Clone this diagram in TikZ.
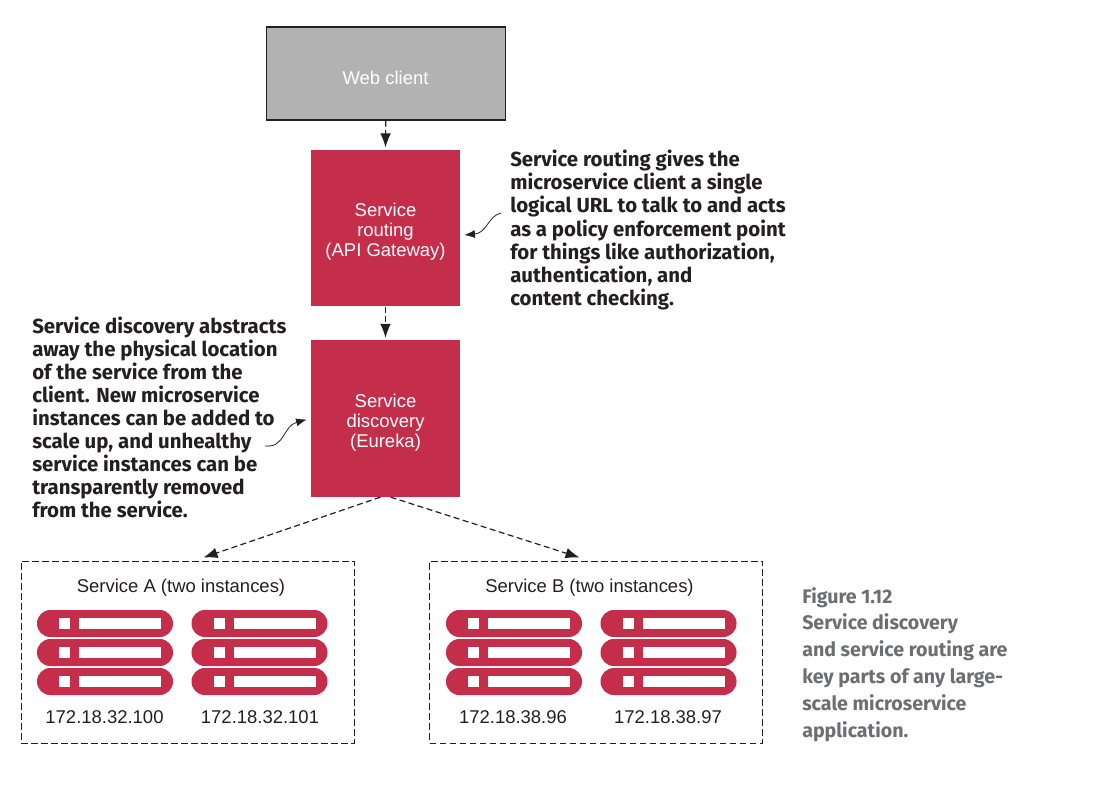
\documentclass[tikz,border=0pt]{standalone}
\usepackage{fontspec}
\setmainfont{Liberation Sans}
\newfontfamily\notefont{Fira Sans}[UprightFont=* Bold]
\usetikzlibrary{arrows.meta,calc}
\definecolor{crimson}{HTML}{C42E4B}
\definecolor{ink}{HTML}{231F20}
\definecolor{capgray}{HTML}{6D6E71}
\tikzset{
  x=0.75pt,y=-0.75pt,
  label text/.style={font=\fontsize{13.85pt}{15pt}\selectfont,text=ink,inner sep=0pt},
  block/.style={fill=crimson,text=white,align=center,inner sep=0pt,minimum width=111.75pt,minimum height=117.5pt},
  flow/.style={draw=ink,line width=0.9pt,dash pattern=on 4.5pt off 2.6pt,-{Latex[length=10.5pt,width=8pt]}},
  callout/.style={draw=ink,line width=0.6pt,-{Latex[length=8pt,width=6pt]}},
  svcbox/.style={draw=ink,line width=0.75pt,dash pattern=on 5pt off 2.5pt,minimum width=249.75pt,minimum height=136.5pt,inner sep=0pt},
  note/.style={font=\notefont\fontsize{15.3pt}{17.3pt}\selectfont,text=ink,align=left,anchor=north west,inner sep=0pt},
  caption/.style={font=\notefont\fontsize{14.7pt}{20.1pt}\selectfont,text=capgray,align=left,anchor=north west,inner sep=0pt},
}
\newcommand{\serverpill}[2]{%
  \fill[crimson,rounded corners=10pt] (#1,#2) rectangle ++(136,27);
  \fill[white] (#1+22,#2+8) rectangle ++(11,11);
  \fill[white] (#1+42,#2+8) rectangle ++(82,11);
}
\newcommand{\serverstack}[2]{%
  \serverpill{#1}{#2}\serverpill{#1}{#2+29}\serverpill{#1}{#2+58}%
}
\begin{document}
\begin{tikzpicture}
\useasboundingbox (0,0) rectangle (1119,792);
\node[draw=ink,line width=0.8pt,fill=black!30,inner sep=0pt,minimum width=179.4pt,minimum height=69.75pt] (web) at (385.7,73.5) {};
\node[label text,text=white] (webtext) at (385.5,78) {Web client};
\node[block] (routing) at (385.5,228) {};
\node[label text,text=white,align=center] (routingtext) at (385.5,232) {Service\\routing\\(API Gateway)};
\node[block] (discovery) at (385.5,418.5) {};
\node[label text,text=white,align=center] (discoverytext) at (385.5,423) {Service\\discovery\\(Eureka)};
\node[svcbox] (svca) at (187.5,652) {};
\node[svcbox] (svcb) at (596,652) {};
\node[label text] (atitle) at (181,588) {Service A (two instances)};
\node[label text] (btitle) at (589.5,588) {Service B (two instances)};
\serverstack{37}{610}
\serverstack{191.5}{610}
\serverstack{446}{610}
\serverstack{600.5}{610}
\node[label text] (ipa) at (104.5,717) {172.18.32.100};
\node[label text] (ipb) at (260,717) {172.18.32.101};
\node[label text] (ipc) at (513,717) {172.18.38.96};
\node[label text] (ipd) at (668,717) {172.18.38.97};
\node[note] (rnote) at (510,150) {Service routing gives the\\microservice client a single\\logical URL to talk to and acts\\as a policy enforcement point\\for things like authorization,\\authentication, and\\content checking.};
\node[note] (dnote) at (32,316.5) {Service discovery abstracts\\away the physical location\\of the service from the\\client. New microservice\\instances can be added to\\scale up, and unhealthy\\service instances can be\\transparently removed\\from the service.};
\node[caption] (cap) at (802,587) {Figure 1.12\\Service discovery\\and service routing are\\key parts of any large-\\scale microservice\\application.};
\draw[flow] (web.south) -- ($(routing.north)+(0,-2)$);
\draw[flow] (routing.south) -- ($(discovery.north)+(0,-2)$);
\draw[flow] ($(discovery.south)+(-5,0)$) -- ($(svca.north)+(16,-3)$);
\draw[flow] ($(discovery.south)+(5,0)$) -- ($(svcb.north)+(-16.5,-3)$);
\coordinate (rstart) at (501,213);
\coordinate (dstart) at (265,446);
\draw[callout] (rstart) .. controls (488,216) and (487,233) .. ($(routing.east)+(4,7)$);
\draw[callout] (dstart) .. controls (285,448) and (283,426) .. ($(discovery.west)+(-4,1)$);
\end{tikzpicture}
\end{document}
